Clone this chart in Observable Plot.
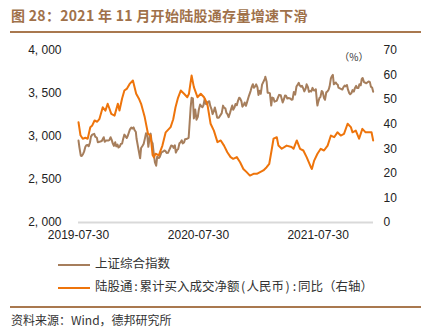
<!DOCTYPE html>
<html>
<head>
<meta charset="utf-8">
<script src="https://cdn.jsdelivr.net/npm/d3@7"></script>
<script src="https://cdn.jsdelivr.net/npm/@observablehq/plot@0.6"></script>
<style>
  body { margin: 0; background: #fff; width: 423px; height: 332px; position: relative; overflow: hidden; font-family: "Noto Sans CJK SC", "Liberation Sans", sans-serif; }
  #title { position: absolute; left: 11px; top: 5px; font-size: 14px; font-weight: bold; color: #a0714a; line-height: 20px; white-space: nowrap; letter-spacing: 0.3px; }
  .rule { position: absolute; left: 10px; width: 411px; height: 2px; background: #a9784f; }
  #chart { position: absolute; left: 0; top: 36px; }
  .leg { position: absolute; left: 58px; font-size: 12.5px; color: #333; line-height: 16px; white-space: nowrap; }
  .leg span.sw { display: inline-block; width: 32px; height: 2px; vertical-align: middle; margin-right: 5px; }
  .leg span.p { display: inline-block; width: 7px; text-align: center; }
  #source { position: absolute; left: 11px; top: 312px; font-size: 12px; color: #333; line-height: 16px; white-space: nowrap; }
</style>
</head>
<body>
<div id="title">图 28：2021 年 11 月开始陆股通存量增速下滑</div>
<div class="rule" style="top:31px;"></div>
<div id="chart"></div>
<div class="leg" style="top:255px;"><span class="sw" style="background:#a67e5c"></span>上证综合指数</div>
<div class="leg" style="top:278px;"><span class="sw" style="background:#ee740b"></span>陆股通<span class="p">:</span>累计买入成交净额<span class="p">(</span>人民币<span class="p">)</span><span class="p">:</span>同比（右轴）</div>
<div class="rule" style="top:306px;"></div>
<div id="source">资料来源：Wind，德邦研究所</div>
<script>
// 上证综合指数 (left axis)
const sseDates = ["2019-07-30","2019-08-02","2019-08-06","2019-08-09","2019-08-13","2019-08-16","2019-08-20","2019-08-23","2019-08-27","2019-08-30","2019-09-03","2019-09-06","2019-09-10","2019-09-16","2019-09-19","2019-09-24","2019-09-27","2019-10-09","2019-10-15","2019-10-18","2019-10-22","2019-10-25","2019-10-29","2019-11-01","2019-11-05","2019-11-08","2019-11-12","2019-11-15","2019-11-19","2019-11-22","2019-11-26","2019-11-29","2019-12-03","2019-12-06","2019-12-10","2019-12-13","2019-12-17","2019-12-20","2019-12-24","2019-12-27","2019-12-31","2020-01-03","2020-01-07","2020-01-10","2020-01-14","2020-01-17","2020-01-21","2020-01-23","2020-02-03","2020-02-06","2020-02-10","2020-02-14","2020-02-18","2020-02-21","2020-02-25","2020-02-28","2020-03-04","2020-03-06","2020-03-09","2020-03-12","2020-03-16","2020-03-19","2020-03-23","2020-03-26","2020-03-31","2020-04-03","2020-04-08","2020-04-14","2020-04-17","2020-04-21","2020-04-24","2020-04-28","2020-05-06","2020-05-08","2020-05-12","2020-05-15","2020-05-19","2020-05-22","2020-05-26","2020-05-29","2020-06-02","2020-06-05","2020-06-09","2020-06-12","2020-06-16","2020-06-19","2020-06-23","2020-06-30","2020-07-03","2020-07-06","2020-07-09","2020-07-13","2020-07-16","2020-07-20","2020-07-24","2020-07-28","2020-07-31","2020-08-04","2020-08-07","2020-08-11","2020-08-14","2020-08-18","2020-08-21","2020-08-25","2020-08-28","2020-09-01","2020-09-04","2020-09-08","2020-09-11","2020-09-15","2020-09-18","2020-09-22","2020-09-25","2020-09-30","2020-10-09","2020-10-13","2020-10-16","2020-10-20","2020-10-23","2020-10-27","2020-10-30","2020-11-03","2020-11-06","2020-11-10","2020-11-13","2020-11-17","2020-11-20","2020-11-24","2020-11-27","2020-12-01","2020-12-04","2020-12-08","2020-12-11","2020-12-15","2020-12-18","2020-12-22","2020-12-25","2020-12-31","2021-01-05","2021-01-08","2021-01-12","2021-01-15","2021-01-19","2021-01-22","2021-01-26","2021-01-29","2021-02-02","2021-02-05","2021-02-09","2021-02-18","2021-02-19","2021-02-23","2021-02-26","2021-03-02","2021-03-05","2021-03-09","2021-03-12","2021-03-16","2021-03-19","2021-03-23","2021-03-26","2021-03-30","2021-04-02","2021-04-07","2021-04-09","2021-04-13","2021-04-16","2021-04-20","2021-04-23","2021-04-27","2021-04-30","2021-05-06","2021-05-10","2021-05-13","2021-05-17","2021-05-21","2021-05-25","2021-05-28","2021-06-01","2021-06-04","2021-06-08","2021-06-11","2021-06-15","2021-06-18","2021-06-22","2021-06-25","2021-06-29","2021-07-02","2021-07-06","2021-07-09","2021-07-13","2021-07-16","2021-07-20","2021-07-23","2021-07-27","2021-07-28","2021-07-30","2021-08-03","2021-08-06","2021-08-10","2021-08-13","2021-08-17","2021-08-20","2021-08-24","2021-08-27","2021-08-31","2021-09-03","2021-09-07","2021-09-10","2021-09-13","2021-09-16","2021-09-22","2021-09-24","2021-09-28","2021-09-30","2021-10-12","2021-10-15","2021-10-19","2021-10-22","2021-10-26","2021-10-29","2021-11-02","2021-11-05","2021-11-09","2021-11-12","2021-11-16","2021-11-19","2021-11-23","2021-11-26","2021-11-30","2021-12-03","2021-12-07","2021-12-10","2021-12-13","2021-12-17","2021-12-21","2021-12-24","2021-12-28","2021-12-31","2022-01-04","2022-01-07","2022-01-11","2022-01-14"];
const sseValues = [2953,2868,2777,2774,2797,2824,2880,2898,2902,2886,2930,2999,3021,3031,2999,2985,2932,2947,2992,2938,2954,2954,2954,2958,2991,2964,2914,2891,2933,2885,2906,2871,2884,2912,2917,2968,3022,3005,2982,3005,3050,3083,3104,3092,3106,3075,3052,2977,2746,2867,2890,2917,2984,3039,3013,2880,3011,3034,2943,2923,2789,2702,2660,2764,2750,2764,2815,2827,2838,2827,2809,2810,2878,2895,2891,2868,2898,2813,2846,2853,2921,2931,2956,2920,2931,2967,2970,2985,3152,3332,3450,3443,3210,3315,3196,3228,3310,3371,3354,3340,3360,3437,3380,3373,3403,3410,3355,3316,3260,3295,3338,3275,3219,3218,3272,3359,3336,3328,3278,3255,3225,3272,3312,3360,3310,3339,3378,3363,3408,3451,3444,3410,3347,3367,3395,3357,3397,3473,3528,3570,3608,3566,3583,3606,3570,3483,3533,3496,3603,3675,3696,3637,3509,3508,3502,3360,3453,3446,3405,3411,3418,3457,3484,3479,3451,3396,3426,3477,3474,3442,3447,3441,3428,3430,3518,3487,3581,3600,3625,3592,3580,3589,3557,3525,3557,3607,3574,3519,3530,3524,3566,3539,3536,3550,3382,3361,3397,3447,3458,3529,3517,3447,3427,3514,3522,3544,3581,3676,3703,3716,3607,3628,3613,3602,3568,3546,3572,3593,3583,3598,3547,3505,3491,3507,3539,3522,3560,3589,3564,3563,3607,3595,3666,3681,3632,3625,3618,3631,3640,3632,3580,3567,3521];

// 陆股通:累计买入成交净额(人民币):同比 (right axis, %)
const hkDates = ["2019-07-30","2019-08-05","2019-08-12","2019-08-20","2019-08-27","2019-09-04","2019-09-10","2019-09-17","2019-09-25","2019-10-02","2019-10-12","2019-10-20","2019-10-27","2019-11-01","2019-11-07","2019-11-17","2019-11-27","2019-12-02","2019-12-10","2019-12-17","2019-12-25","2020-01-02","2020-01-12","2020-01-22","2020-01-30","2020-02-06","2020-02-17","2020-02-27","2020-03-06","2020-03-12","2020-03-16","2020-03-21","2020-03-31","2020-04-11","2020-04-21","2020-05-06","2020-05-14","2020-05-21","2020-05-28","2020-06-06","2020-06-16","2020-06-26","2020-07-01","2020-07-09","2020-07-16","2020-07-27","2020-08-06","2020-08-16","2020-08-26","2020-09-05","2020-09-15","2020-09-26","2020-10-06","2020-10-16","2020-10-26","2020-11-05","2020-11-13","2020-11-24","2020-12-04","2020-12-14","2020-12-24","2021-01-03","2021-01-14","2021-01-24","2021-02-03","2021-02-13","2021-02-23","2021-03-03","2021-03-10","2021-03-16","2021-03-26","2021-03-31","2021-04-10","2021-04-25","2021-05-10","2021-05-16","2021-05-26","2021-06-05","2021-06-15","2021-06-25","2021-07-08","2021-07-11","2021-07-18","2021-07-28","2021-08-07","2021-08-17","2021-08-28","2021-09-07","2021-09-17","2021-09-27","2021-10-07","2021-10-17","2021-10-28","2021-11-07","2021-11-12","2021-11-22","2021-12-02","2021-12-12","2021-12-22","2022-01-02","2022-01-09","2022-01-14"];
const hkValues = [40.8,35.5,34.1,34.5,34.1,38.8,39.5,41.5,41.0,42.2,46.9,45.5,48.3,46.5,44.2,43.5,48.3,45.6,50.5,53.7,54.5,56.4,57.8,52.4,50.5,48.3,42.9,36.1,35.5,27.5,26.6,28.0,27.3,31.3,36.7,38.8,42.0,46.9,50.5,53.7,52.4,51.0,52.4,59.8,55.1,51.0,52.4,51.0,48.3,40.2,37.4,32.7,33.4,31.3,28.6,26.6,25.9,26.6,24.5,21.8,20.5,19.1,19.8,19.8,20.5,21.2,22.5,23.9,29.3,34.1,34.7,31.3,30.0,31.3,30.7,30.0,33.4,30.0,29.3,26.6,22.5,21.8,25.2,28.0,30.0,29.3,31.3,35.4,34.7,36.7,35.4,36.1,40.2,38.8,36.7,37.4,34.1,38.1,36.7,36.7,36.7,33.4];

const leftTicks = [2000, 2500, 3000, 3500, 4000];
const rightTicks = [0, 10, 20, 30, 40, 50, 60, 70];
const xTickLabels = ["2019-07-30", "2020-07-30", "2021-07-30"];

const parse = d3.utcParse("%Y-%m-%d");
const sse = sseDates.map((d, i) => ({date: parse(d), value: sseValues[i]}));
const hk = hkDates.map((d, i) => ({date: parse(d), value: hkValues[i]}));
const toLeft = v => 2000 + v * 2000 / 70;
const fromLeft = v => Math.round((v - 2000) * 70 / 2000);
const fmtLeft = v => d3.format(",")(v).replace(",", ", ");

const chart = Plot.plot({
  width: 423,
  height: 210,
  marginTop: 14,
  marginBottom: 24,
  marginLeft: 78,
  marginRight: 50,
  style: {fontFamily: "'Liberation Sans', Arial, sans-serif", fontSize: "12px", color: "#222", background: "transparent"},
  x: {type: "utc", domain: [parse("2019-07-30"), parse("2022-01-15")], label: null},
  y: {domain: [2000, 4000], label: null},
  marks: [
    Plot.ruleY([2000], {stroke: "#d9d9d9", strokeWidth: 2}),
    Plot.axisY(leftTicks, {anchor: "left", tickSize: 0, tickPadding: 17, tickFormat: fmtLeft, label: null, fontSize: 12}),
    Plot.axisY(rightTicks.map(toLeft), {anchor: "right", tickSize: 0, tickPadding: 10, tickFormat: fromLeft, label: null, fontSize: 12}),
    Plot.axisX(xTickLabels.map(parse), {tickSize: 0, tickPadding: 8, tickFormat: d3.utcFormat("%Y-%m-%d"), label: null, fontSize: 12}),
    Plot.line(sse, {x: "date", y: "value", stroke: "#a67e5c", strokeWidth: 2}),
    Plot.line(hk, {x: "date", y: d => toLeft(d.value), stroke: "#ee740b", strokeWidth: 2}),
    Plot.text(["（%）"], {frameAnchor: "top-right", textAnchor: "end", dx: -5, dy: 3, fontSize: 10, fill: "#333", fontFamily: "'Noto Sans CJK SC', sans-serif"})
  ]
});
document.getElementById("chart").appendChild(chart);
</script>
</body>
</html>
